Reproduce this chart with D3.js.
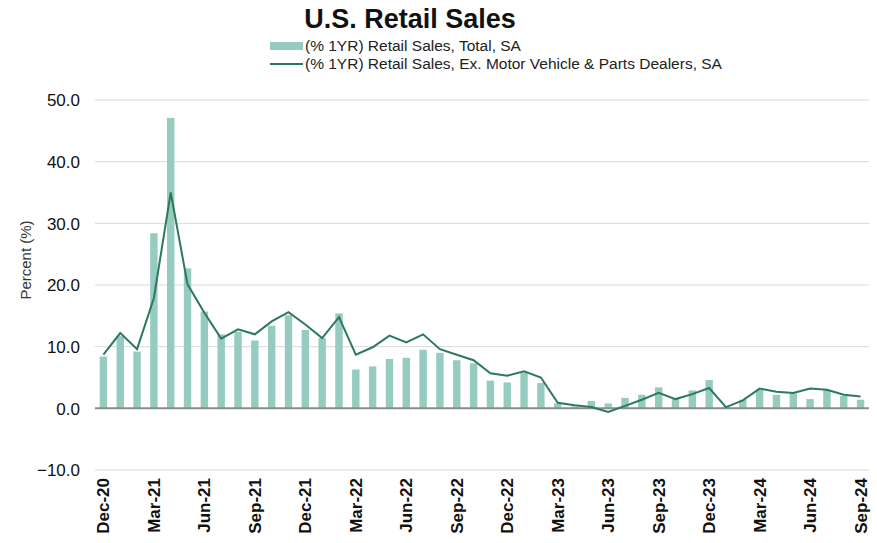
<!DOCTYPE html>
<html>
<head>
<meta charset="utf-8">
<script src="https://cdn.jsdelivr.net/npm/d3@7"></script>
<style>
  body { margin: 0; background: #fff; }
  text { font-family: Arial, "Liberation Sans", sans-serif; }
</style>
</head>
<body>
<svg id="chart" width="877" height="543"></svg>
<script>
// months shown on the x axis (Dec-20 .. Sep-24)
var months = ["Dec-20","Jan-21","Feb-21","Mar-21","Apr-21","May-21","Jun-21","Jul-21","Aug-21","Sep-21","Oct-21","Nov-21",
  "Dec-21","Jan-22","Feb-22","Mar-22","Apr-22","May-22","Jun-22","Jul-22","Aug-22","Sep-22","Oct-22","Nov-22",
  "Dec-22","Jan-23","Feb-23","Mar-23","Apr-23","May-23","Jun-23","Jul-23","Aug-23","Sep-23","Oct-23","Nov-23",
  "Dec-23","Jan-24","Feb-24","Mar-24","Apr-24","May-24","Jun-24","Jul-24","Aug-24","Sep-24"];

// (% 1YR) Retail Sales, Total, SA
var totalSales = [8.4, 11.7, 9.2, 28.4, 47.1, 22.7, 15.7, 12.0, 12.4, 11.0, 13.4, 15.1,
  12.7, 11.4, 15.4, 6.3, 6.8, 8.0, 8.2, 9.5, 9.0, 7.8, 7.3, 4.5,
  4.2, 5.8, 4.1, 0.8, 0.3, 1.2, 0.8, 1.7, 2.2, 3.4, 1.5, 2.9,
  4.6, 0.3, 1.4, 3.0, 2.2, 2.4, 1.5, 3.0, 2.0, 1.4];

// (% 1YR) Retail Sales, Ex. Motor Vehicle & Parts Dealers, SA
var exAutos = [8.7, 12.2, 9.6, 17.9, 35.0, 20.1, 15.5, 11.3, 12.8, 12.0, 14.1, 15.6,
  13.6, 11.4, 14.8, 8.7, 9.9, 11.8, 10.7, 12.0, 9.6, 8.7, 7.8, 5.7,
  5.3, 6.0, 5.0, 0.9, 0.5, 0.2, -0.6, 0.4, 1.4, 2.5, 1.5, 2.3,
  3.3, 0.2, 1.3, 3.2, 2.7, 2.5, 3.2, 3.0, 2.2, 1.9];

var yTicks = [-10, 0, 10, 20, 30, 40, 50];
var xLabels = ["Dec-20","Mar-21","Jun-21","Sep-21","Dec-21","Mar-22","Jun-22","Sep-22",
  "Dec-22","Mar-23","Jun-23","Sep-23","Dec-23","Mar-24","Jun-24","Sep-24"];

var barColor = "#96cbbf";
var lineColor = "#2b7a5b";
var narrow = "'Liberation Sans Narrow', 'Arial Narrow', Arial, sans-serif";

var svg = d3.select("#chart");

var x = d3.scaleBand().domain(months).range([95, 869]).paddingInner(0.56).paddingOuter(0.28);
var y = d3.scaleLinear().domain([-10, 50]).range([470, 100]);

// gridlines
svg.append("g").selectAll("line").data(yTicks.filter(function (d) { return d !== 0; }))
  .join("line")
  .attr("x1", 95).attr("x2", 869)
  .attr("y1", function (d) { return y(d); }).attr("y2", function (d) { return y(d); })
  .attr("stroke", "#d9d9d9").attr("stroke-width", 1);

// y axis labels
var yAxis = d3.axisLeft(y).tickValues(yTicks).tickFormat(d3.format(".1f")).tickSize(0).tickPadding(0);
svg.append("g").attr("transform", "translate(80,0)").call(yAxis)
  .call(function (g) { g.select(".domain").remove(); })
  .selectAll("text")
  .style("font-size", "17px").style("fill", "#111").attr("dy", "0.35em");

svg.append("text")
  .attr("transform", "translate(31,260) rotate(-90)")
  .attr("text-anchor", "middle")
  .style("font-size", "15px").style("fill", "#333")
  .text("Percent (%)");

// bars
svg.append("g").selectAll("rect").data(months)
  .join("rect")
  .attr("x", function (d) { return x(d); })
  .attr("width", x.bandwidth())
  .attr("y", function (d, i) { return y(Math.max(0, totalSales[i])); })
  .attr("height", function (d, i) { return Math.abs(y(totalSales[i]) - y(0)); })
  .attr("fill", barColor);

// zero line
svg.append("line")
  .attr("x1", 95).attr("x2", 869).attr("y1", y(0)).attr("y2", y(0))
  .attr("stroke", "#8c8c8c").attr("stroke-width", 2);

// ex-autos line
var line = d3.line()
  .x(function (d, i) { return x(months[i]) + x.bandwidth() / 2; })
  .y(function (d) { return y(d); });
svg.append("path").datum(exAutos)
  .attr("d", line)
  .attr("fill", "none").attr("stroke", lineColor).attr("stroke-width", 2);

// x axis labels
var xAxis = d3.axisBottom(x).tickValues(xLabels).tickSize(0).tickPadding(0);
svg.append("g").attr("transform", "translate(0,476)").call(xAxis)
  .call(function (g) { g.select(".domain").remove(); })
  .selectAll("text")
  .attr("transform", "rotate(-90)")
  .attr("text-anchor", "end")
  .attr("x", -2).attr("y", 0).attr("dy", "0.35em")
  .style("font-size", "17px").style("font-weight", "bold").style("fill", "#111");

// title
svg.append("text")
  .attr("x", 410).attr("y", 28)
  .attr("text-anchor", "middle")
  .style("font-family", narrow).style("font-weight", "bold").style("font-size", "27px").style("fill", "#111")
  .text("U.S. Retail Sales");

// legend
var legend = svg.append("g").attr("transform", "translate(270,0)");
legend.append("rect").attr("x", 0).attr("y", 42).attr("width", 33).attr("height", 8).attr("fill", barColor);
legend.append("line").attr("x1", 0).attr("x2", 33).attr("y1", 64).attr("y2", 64)
  .attr("stroke", lineColor).attr("stroke-width", 2);
legend.append("text").attr("x", 35).attr("y", 51)
  .style("font-family", narrow).style("font-size", "15.5px").style("fill", "#222")
  .text("(% 1YR) Retail Sales, Total, SA");
legend.append("text").attr("x", 35).attr("y", 69)
  .style("font-family", narrow).style("font-size", "15.5px").style("fill", "#222")
  .text("(% 1YR) Retail Sales, Ex. Motor Vehicle & Parts Dealers, SA");
</script>
</body>
</html>
